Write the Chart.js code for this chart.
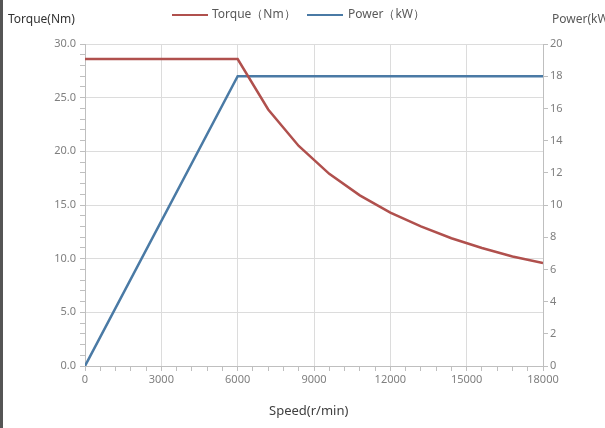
<!DOCTYPE html>
<html>
<head>
<meta charset="utf-8">
<script src="https://cdn.jsdelivr.net/npm/chart.js@4.4.1/dist/chart.umd.min.js"></script>
<style>
	html, body { margin: 0; padding: 0; background: #fff; }
	#wrap { position: relative; width: 605px; height: 428px; overflow: hidden; font-family: "Noto Sans", sans-serif; }
	#strip { position: absolute; left: 0; top: 0; width: 3px; height: 428px; background: #555; }
	.lbl { position: absolute; white-space: nowrap; font-size: 12px; color: #595959; }
	.key { position: absolute; height: 2px; width: 36px; top: 14px; }
</style>
</head>
<body>
<div id="wrap">
	<canvas id="chart" width="605" height="428"></canvas>
	<div id="strip"></div>
	<div class="lbl" style="left:8px; top:10px; color:#333;">Torque(Nm)</div>
	<div class="lbl" style="left:552px; top:10px;">Power(kW</div>
	<div class="lbl" style="left:269px; top:401px; font-size:13px; color:#404040;">Speed(r/min)</div>
	<div class="key" style="left:172px; background:#b0504d;"></div>
	<div class="lbl" style="left:212px; top:5px;">Torque（Nm）</div>
	<div class="key" style="left:307px; background:#4a7aa5;"></div>
	<div class="lbl" style="left:348px; top:5px;">Power（kW）</div>
</div>
<script>
// Drehzahl / Drehmoment / Leistung
var speedTorque = [0, 6000, 7200, 8400, 9600, 10800, 12000, 13200, 14400, 15600, 16800, 18000];
var torque = [28.6, 28.6, 23.9, 20.5, 17.9, 15.9, 14.3, 13.0, 11.9, 11.0, 10.2, 9.6];
var speedPower = [0, 6000, 18000];
var power = [0, 18, 18];

var tickFont = { family: "Noto Sans", size: 11 };

function points(xs, ys) {
	return xs.map(function(x, i) { return { x: x, y: ys[i] }; });
}

let chart = new Chart(document.getElementById("chart"), {
	type: 'line',
	data: {
		datasets: [
			{
				label: "Torque（Nm）", data: points(speedTorque, torque), yAxisID: 'y',
				borderColor: '#b0504d', borderWidth: 2.5, pointRadius: 0, tension: 0
			},
			{
				label: "Power（kW）", data: points(speedPower, power), yAxisID: 'y1',
				borderColor: '#4a7aa5', borderWidth: 2.5, pointRadius: 0, tension: 0
			}
		]
	},
	options: {
		responsive: false,
		animation: false,
		layout: { padding: { top: 44, right: 0, left: 0, bottom: 0 } },
		plugins: { legend: { display: false }, tooltip: { enabled: false } },
		scales: {
			x: {
				type: 'linear', min: 0, max: 18000,
				afterFit: function(s) { s.height = 62; },
				ticks: {
					stepSize: 600, autoSkip: false, maxRotation: 0, color: '#7f7f7f', font: tickFont, padding: 2,
					callback: function(v) { return v % 3000 === 0 ? v : ''; }
				},
				grid: {
					color: function(ctx) { return ctx.tick && ctx.tick.value % 3000 === 0 && ctx.tick.value > 0 ? '#dcdcdc' : 'rgba(0,0,0,0)'; },
					tickColor: '#bfbfbf', tickLength: 5
				},
				border: { color: '#bfbfbf' }
			},
			y: {
				position: 'left', min: 0, max: 30,
				afterFit: function(s) { s.width = 85; },
				ticks: {
					stepSize: 1, autoSkip: false, color: '#7f7f7f', font: tickFont, padding: 4,
					callback: function(v) { return v % 5 === 0 ? v.toFixed(1) : ''; }
				},
				grid: {
					color: function(ctx) { return ctx.tick && ctx.tick.value % 5 === 0 && ctx.tick.value > 0 ? '#dcdcdc' : 'rgba(0,0,0,0)'; },
					tickColor: '#bfbfbf', tickLength: 5
				},
				border: { color: '#bfbfbf' }
			},
			y1: {
				position: 'right', min: 0, max: 20,
				afterFit: function(s) { s.width = 62; },
				ticks: { stepSize: 2, color: '#7f7f7f', font: tickFont, padding: 2 },
				grid: { drawOnChartArea: false, tickColor: '#bfbfbf', tickLength: 5 },
				border: { color: '#bfbfbf' }
			}
		}
	}
});
</script>
</body>
</html>
